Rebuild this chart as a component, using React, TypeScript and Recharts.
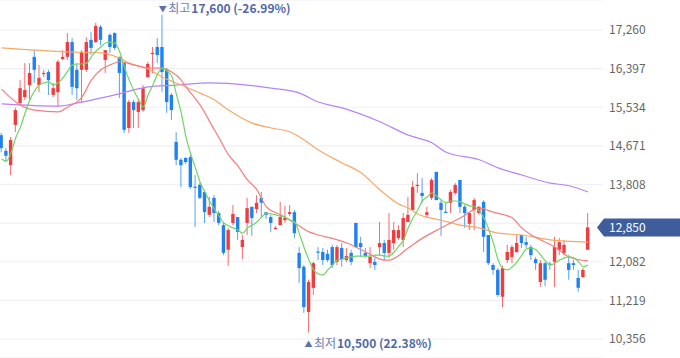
import React from 'react';
import { ComposedChart, Bar, Line, XAxis, YAxis, CartesianGrid, ReferenceDot } from 'recharts';

const OPEN = [14910,14560,14240,15140,15630,15760,16030,16660,16030,16290,16320,15810,15870,16610,16660,16990,16370,16370,16370,17040,16990,17330,16590,17150,17190,16660,16520,15070,15650,15430,15470,16210,16740,16880,16880,16370,15810,14760,14360,14400,14420,13760,13800,13640,13130,13510,13170,12900,12350,12950,13080,12410,12950,13310,13260,13510,13190,13080,12830,12900,13010,13150,13190,12280,11970,10960,11500,12310,12300,12260,12410,12080,12390,12120,12280,12950,12500,12280,12050,12080,12410,12500,12280,12500,12610,12570,12970,13240,13790,13620,13130,13510,14090,13400,13200,13400,13620,13910,13310,12930,13240,13170,13420,12680,12010,11900,11300,12120,12190,12300,12680,12520,12410,12140,11630,12050,12040,12080,12350,12280,12050,12050,11720,11740,12350];
const HIGH = [14960,14620,14870,15520,16140,16520,16520,16810,16480,16370,16370,16080,16590,16810,17190,17080,16520,16810,17100,17210,17420,17370,16810,17190,17210,16660,16550,15700,15700,15700,16030,16550,16880,17080,17600,16410,15850,14980,14400,14420,14470,14020,13840,13690,13530,13570,13220,12950,12840,13350,13080,12680,13510,13310,13570,13640,13190,13130,12880,13420,13330,13350,13240,12410,12010,11680,12080,12410,12390,12350,12460,12460,12500,12390,12350,12950,12640,12390,12410,12170,12970,12570,13170,12970,12900,13170,13530,13890,14060,13950,13310,13950,14090,13460,13420,13690,13840,13910,13350,13170,13510,13330,13460,12680,12050,11940,11990,12460,12460,12680,12680,12640,12460,12190,12120,12080,12080,12640,12610,12570,12230,12120,11900,11940,13170];
const LOW = [14530,14310,14020,14980,15580,15700,15700,16080,15870,16210,15810,15760,15540,16590,16590,15810,15700,15650,16320,16700,16970,16920,16300,16750,16810,15740,14960,14960,15070,15070,15430,16190,16300,16520,15870,15410,15250,14240,13750,14270,13710,12860,13480,12950,13080,12970,12900,12230,11990,12900,12570,12140,12680,12660,13170,13060,13040,12750,12810,12900,12950,13100,12610,11610,10940,10500,11340,12120,12010,12080,11940,12010,11970,12080,12010,12390,12190,12170,11940,11900,12230,12120,12170,12350,12570,12410,12970,13240,13620,13400,13060,13460,13460,12660,13170,13170,13570,13170,12840,12790,12790,13130,12300,12010,11790,11300,11070,12050,12050,12280,12390,12390,12120,11900,11520,11540,11900,11520,12230,12230,11680,11900,11410,11720,12350];
const CLOSE = [14620,14450,14800,15470,15960,15920,16300,16370,16190,16300,16140,15960,16550,16660,16990,15990,15960,16770,16990,16860,17350,17040,16810,16880,16860,16300,15030,15650,15470,15650,15960,16500,16750,16700,16320,15650,15470,14360,14240,14310,13750,13750,13510,13190,13310,13170,12950,12280,12790,13150,12750,12570,13280,13060,13400,13400,13130,12950,12840,13080,13060,13190,12720,11940,11070,11630,12050,12300,12120,12120,12010,12410,12140,12210,12080,12410,12410,12210,12190,12010,12500,12280,12570,12790,12790,13060,13130,13750,13800,13550,13190,13910,13460,13240,13190,13640,13800,13310,13170,13170,13460,13310,12640,12050,11900,11340,11940,12300,12410,12500,12500,12460,12230,12050,12050,11680,12030,12410,12520,12460,11900,12010,11500,11900,12850];

const MA5 = [14380,14330,14510,14850,15090,15410,15700,15900,16030,16080,
  16100,16030,16080,16190,16340,16480,16500,16500,16520,16660,
  16790,16880,16970,16990,16970,16770,16430,16140,15900,15700,
  15540,15810,16030,16280,16410,16340,16230,15810,15410,14870,
  14490,14180,13860,13640,13440,13260,13100,12950,12880,12840,
  12790,12720,12840,12900,12970,13080,13170,13150,13130,13100,
  13080,13010,12970,12700,12390,12120,11900,11810,11790,11900,
  12010,12120,12140,12170,12190,12210,12210,12210,12210,12230,
  12230,12210,12210,12300,12430,12570,12840,13060,13240,13440,
  13530,13620,13550,13460,13400,13440,13440,13420,13370,13330,
  13310,13220,13060,12810,12500,12120,11940,11900,11970,12080,
  12230,12370,12390,12350,12230,12100,12010,12050,12120,12170,
  12190,12170,12080,11970,12010];

const MA20_PTS: [number, number][] = [[0,15940],[4,15580],[7,15470],[12,15430],[14,15540],[17,15760],[19,16140],[21,16370],[23,16480],[25,16550],[28,16480],[31,16410],[34,16410],[36,16320],[38,16140],[39,15990],[42,15580],[45,15030],[46,14850],[48,14470],[50,14220],[52,13910],[54,13690],[56,13310],[59,13130],[62,12950],[65,12750],[67,12680],[71,12570],[73,12500],[77,12300],[81,12120],[82,12120],[86,12390],[89,12610],[93,12840],[97,13060],[101,13280],[104,13190],[108,13060],[110,12840],[112,12680],[114,12570],[117,12410],[120,12190],[124,12100]];
const MA60_PTS: [number, number][] = [[0,16860],[14,16770],[21,16750],[25,16630],[27,16520],[31,16390],[34,16210],[38,16030],[42,15850],[45,15700],[48,15470],[53,15180],[57,15070],[61,14980],[63,14870],[67,14580],[72,14290],[76,14070],[80,13690],[84,13370],[86,13280],[88,13150],[93,13010],[97,12900],[101,12840],[105,12720],[110,12680],[116,12570],[124,12520]];
const MA120_PTS: [number, number][] = [[0,15610],[12,15560],[17,15650],[24,15810],[31,15990],[37,16030],[44,16080],[52,16030],[57,15960],[63,15850],[67,15650],[72,15520],[80,15210],[86,14910],[91,14740],[94,14530],[101,14360],[105,14180],[110,14020],[116,13840],[120,13780],[124,13640]];

const Y_TICKS = [10356, 11219, 12082, 12945, 13808, 14671, 15534, 16397, 17260];
const LAST_PRICE = 12850;
const LAST_LABEL = '12,850';
const HIGH_MARK = { idx: 34, price: 17600, word: '최고', text: '17,600 (-26.99%)' };
const LOW_MARK = { idx: 65, price: 10500, word: '최저', text: '10,500 (22.38%)' };

const FONT = '"Noto Sans CJK KR", "Noto Sans", sans-serif';
const RED = '#f03b3f';
const BLUE = '#1f82f0';

const toMap = (pts: [number, number][]) => {
  const m: Record<number, number> = {};
  pts.forEach(([i, v]) => { m[i] = v; });
  return m;
};
const m20 = toMap(MA20_PTS);
const m60 = toMap(MA60_PTS);
const m120 = toMap(MA120_PTS);

const data = OPEN.map((o, i) => ({
  i,
  open: o,
  high: HIGH[i],
  low: LOW[i],
  close: CLOSE[i],
  range: [LOW[i], HIGH[i]],
  ma5: MA5[i],
  ma20: m20[i] ?? null,
  ma60: m60[i] ?? null,
  ma120: m120[i] ?? null,
}));

const Candle = (props: any) => {
  const { x, y, width, height, payload } = props;
  if (!payload) return null;
  const { open, close, high, low } = payload;
  const up = close >= open;
  const color = up ? RED : BLUE;
  const top = Math.min(y, y + height);
  const h = Math.abs(height);
  const ratio = h / (high - low || 1);
  const yO = top + (high - open) * ratio;
  const yC = top + (high - close) * ratio;
  const cx = x + width / 2;
  const bTop = Math.min(yO, yC);
  const bH = Math.max(1.2, Math.abs(yO - yC));
  return (
    <g>
      <line x1={cx} x2={cx} y1={top} y2={top + h} stroke={color} strokeWidth={1} strokeOpacity={0.75} />
      <rect x={cx - 1.7} y={bTop} width={3.4} height={bH} fill={color} />
    </g>
  );
};

const HighLabel = (props: any) => {
  const { cx, cy } = props;
  return (
    <g fontFamily={FONT}>
      <text x={cx + 0.5} y={cy - 3} textAnchor="middle" fontSize={8} fill="#5d72a8">▼</text>
      <text x={cx + 6} y={cy - 2} fontSize={12} fill="#6b7eb2">{HIGH_MARK.word}</text>
      <text x={cx + 29} y={cy - 2} fontSize={12} fontWeight="bold" fill="#5269a6">{HIGH_MARK.text}</text>
    </g>
  );
};

const LowLabel = (props: any) => {
  const { cx, cy } = props;
  return (
    <g fontFamily={FONT}>
      <text x={cx - 0.5} y={cy + 14} textAnchor="middle" fontSize={8} fill="#5d72a8">▲</text>
      <text x={cx + 5} y={cy + 15} fontSize={12} fill="#6b7eb2">{LOW_MARK.word}</text>
      <text x={cx + 28} y={cy + 15} fontSize={12} fontWeight="bold" fill="#5269a6">{LOW_MARK.text}</text>
    </g>
  );
};

const PriceTag = (props: any) => {
  const { cy } = props;
  const left = 597;
  const body = 604;
  const right = 680;
  const hh = 9;
  return (
    <g>
      <polygon points={`${left},${cy} ${body},${cy - hh} ${right},${cy - hh} ${right},${cy + hh} ${body},${cy + hh}`} fill="#3f5d9c" />
      <text x={609} y={cy} dy="0.36em" fontSize={12} fontFamily={FONT} fill="#ffffff">{LAST_LABEL}</text>
    </g>
  );
};

export default function App() {
  return (
    <div style={{ position: 'absolute', left: 0, top: 0, width: 680, height: 358, background: '#fff' }}>
      <ComposedChart width={680} height={358} data={data} margin={{ top: 0, right: 0, bottom: 0, left: 0 }}>
        <CartesianGrid vertical={false} stroke="#eff0f7" strokeWidth={1.2} />
        <XAxis dataKey="i" type="number" domain={[-0.32, 127.17]} hide allowDataOverflow />
        <YAxis
          orientation="right"
          type="number"
          domain={[9932, 17930]}
          ticks={Y_TICKS}
          allowDataOverflow
          width={77}
          axisLine={false}
          tickLine={false}
          tickSize={0}
          tickMargin={6}
          interval={0}
          tick={{ fill: '#666666', fontSize: 12, fontFamily: FONT, textAnchor: 'start' }}
          tickFormatter={(v: number) => (v === 12945 ? '' : v.toLocaleString('en-US'))}
        />
        <Bar dataKey="range" shape={Candle} barSize={4} isAnimationActive={false} />
        <Line dataKey="ma120" type="monotone" stroke="#b883f7" strokeWidth={1.2} dot={false} activeDot={false} connectNulls isAnimationActive={false} />
        <Line dataKey="ma60" type="monotone" stroke="#f7a968" strokeWidth={1.2} dot={false} activeDot={false} connectNulls isAnimationActive={false} />
        <Line dataKey="ma20" type="monotone" stroke="#f47f7f" strokeWidth={1.2} dot={false} activeDot={false} connectNulls isAnimationActive={false} />
        <Line dataKey="ma5" type="monotone" stroke="#72d464" strokeWidth={1.2} dot={false} activeDot={false} connectNulls isAnimationActive={false} />
        <ReferenceDot x={HIGH_MARK.idx} y={HIGH_MARK.price} ifOverflow="visible" shape={HighLabel} />
        <ReferenceDot x={LOW_MARK.idx} y={LOW_MARK.price} ifOverflow="visible" shape={LowLabel} />
        <ReferenceDot x={OPEN.length - 1} y={LAST_PRICE} ifOverflow="visible" shape={PriceTag} />
      </ComposedChart>
    </div>
  );
}
